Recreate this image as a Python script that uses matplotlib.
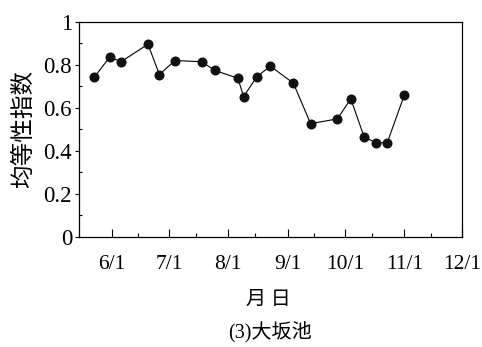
import numpy as np
import pandas as pd
import matplotlib
matplotlib.use("Agg")
import matplotlib.pyplot as plt
import matplotlib.dates as mdates

# sampling dates and evenness index
dates = ["05-23", "05-31", "06-06", "06-20", "06-26", "07-04", "07-18", "07-25",
         "08-06", "08-09", "08-16", "08-23", "09-04", "09-13", "09-27", "10-04",
         "10-11", "10-17", "10-23", "11-01"]
evenness = [0.743, 0.836, 0.815, 0.896, 0.755, 0.820, 0.815, 0.774,
            0.738, 0.653, 0.746, 0.794, 0.715, 0.527, 0.549, 0.642,
            0.465, 0.439, 0.437, 0.660]

month_ticks = ["06-01", "07-01", "08-01", "09-01", "10-01", "11-01", "12-01"]
month_labels = ["6/1", "7/1", "8/1", "9/1", "10/1", "11/1", "12/1"]
y_ticks = [0, 0.2, 0.4, 0.6, 0.8, 1.0]
y_labels = ["0", "0.2", "0.4", "0.6", "0.8", "1"]

year = "2010-"
x = pd.to_datetime([year + d for d in dates])
xt = pd.to_datetime([year + d for d in month_ticks])

serif = ["Liberation Serif", "Noto Sans CJK SC"]
cjk = ["Noto Sans CJK SC", "Liberation Serif"]

fig = plt.figure(figsize=(4.82, 3.47), dpi=100)
ax = fig.add_axes([0.164, 0.317, 0.794, 0.620])

ax.plot(x, evenness, color="black", lw=0.8, marker="o", ms=6.2,
        markerfacecolor="#111111", markeredgecolor="#111111")

ax.set_xlim(pd.Timestamp(year + "05-15"), pd.Timestamp(year + "12-01"))
ax.set_ylim(0, 1)

ax.set_xticks(xt)
ax.set_xticklabels(month_labels, family=serif, fontsize=15.5)
ax.xaxis.set_minor_locator(mdates.DayLocator(bymonthday=15))
ax.tick_params(axis="x", which="major", direction="in", length=6, width=0.8, pad=13)
ax.tick_params(axis="x", which="minor", direction="in", length=3, width=0.8)

ax.set_yticks(y_ticks)
ax.set_yticklabels(y_labels, family=serif, fontsize=16.5)
ax.set_yticks(np.arange(0.1, 1.0, 0.2), minor=True)
ax.tick_params(axis="y", which="major", direction="out", length=3, width=0.8, pad=2)
ax.tick_params(axis="y", which="minor", direction="in", length=2, width=0.8)

for s in ax.spines.values():
    s.set_linewidth(0.9)

ax.set_ylabel("均等性指数", family=cjk, fontsize=17, labelpad=6)
fig.text(0.557, 0.138, "月 日", family=cjk, fontsize=14.5, ha="center", va="center")
fig.text(0.56, 0.045, "(3)大坂池", family=serif, fontsize=14.5, ha="center", va="center")

fig.savefig("out.png", dpi=100)
